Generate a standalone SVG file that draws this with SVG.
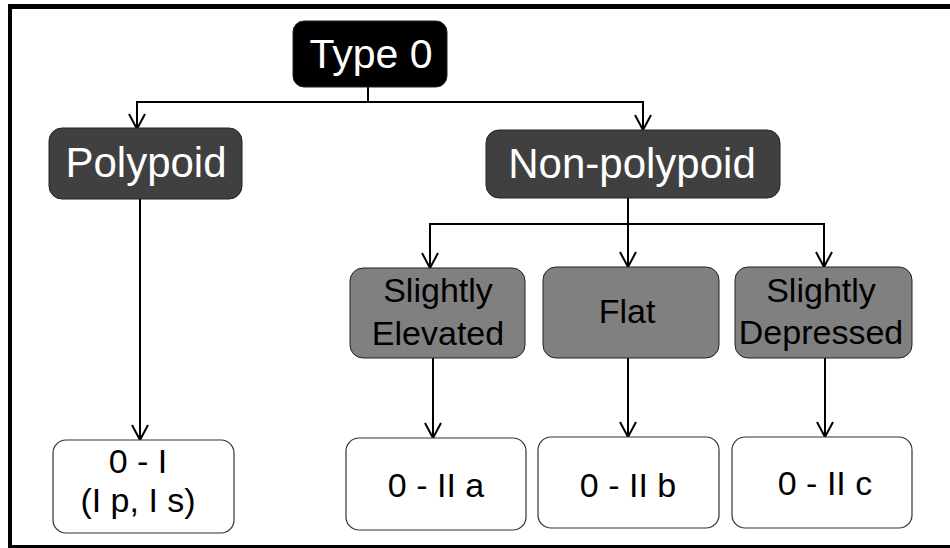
<svg xmlns="http://www.w3.org/2000/svg" width="950" height="548" viewBox="0 0 950 548">
<style>
.t{font-family:"Liberation Sans",Arial,sans-serif;text-anchor:middle}
.top{fill:#000;stroke:#222;stroke-width:1}
.mid{fill:#404040;stroke:#222;stroke-width:1}
.sub{fill:#808080;stroke:#222;stroke-width:1}
.leaf{fill:#fff;stroke:#333;stroke-width:1.2}
.w{fill:#fff}
.k{fill:#000}
.c path{fill:none;stroke:#000;stroke-width:2}
</style>
<defs>
<marker id="ah" viewBox="0 0 18 18" refX="16" refY="9" markerWidth="18" markerHeight="18" markerUnits="userSpaceOnUse" orient="auto">
<path d="M1,1 L16,9 L1,17" fill="none" stroke="#000" stroke-width="2"/>
</marker>
</defs>
<rect width="950" height="548" fill="#fff"/>
<g id="frame" fill="#000">
<rect x="8" y="4" width="942" height="5"/>
<rect x="8" y="4" width="4" height="544"/>
<rect x="8" y="545" width="942" height="3"/>
</g>
<g class="c" id="connectors">
<path d="M368,87 V102 H137 V129" marker-end="url(#ah)"/>
<path d="M368,102 H643 V130" marker-end="url(#ah)"/>
<path d="M140,199 V440" marker-end="url(#ah)"/>
<path d="M628,198 V224 H430 V268" marker-end="url(#ah)"/>
<path d="M628,224 V267" marker-end="url(#ah)"/>
<path d="M628,224 H824 V267" marker-end="url(#ah)"/>
<path d="M433,358 V438" marker-end="url(#ah)"/>
<path d="M628,358 V437" marker-end="url(#ah)"/>
<path d="M825,358 V437" marker-end="url(#ah)"/>
</g>
<g id="type0">
<rect class="top" x="293" y="21" width="154" height="66" rx="11"/>
<text class="t w" x="371" y="68" font-size="41">Type 0</text>
</g>
<g id="polypoid">
<rect class="mid" x="49" y="128" width="193" height="71" rx="13"/>
<text class="t w" x="146" y="177" font-size="42">Polypoid</text>
</g>
<g id="nonpolypoid">
<rect class="mid" x="486" y="130" width="294" height="68" rx="13"/>
<text class="t w" x="632" y="178" font-size="42">Non-polypoid</text>
</g>
<g id="elevated">
<rect class="sub" x="350" y="268" width="175" height="90" rx="13"/>
<text class="t k" x="438" y="302" font-size="34">Slightly</text>
<text class="t k" x="438" y="345" font-size="34">Elevated</text>
</g>
<g id="flat">
<rect class="sub" x="543" y="267" width="176" height="91" rx="13"/>
<text class="t k" x="627" y="323" font-size="34">Flat</text>
</g>
<g id="depressed">
<rect class="sub" x="735" y="267" width="177" height="91" rx="13"/>
<text class="t k" x="821" y="302" font-size="34">Slightly</text>
<text class="t k" x="821" y="344" font-size="34">Depressed</text>
</g>
<g id="zero-I">
<rect class="leaf" x="53" y="440" width="181" height="93" rx="13"/>
<text class="t k" x="138" y="473" font-size="34">0 - I</text>
<text class="t k" x="138" y="512" font-size="34">(I p, I s)</text>
</g>
<g id="zero-IIa">
<rect class="leaf" x="346" y="438" width="180" height="92" rx="13"/>
<text class="t k" x="436" y="497" font-size="34">0 - II a</text>
</g>
<g id="zero-IIb">
<rect class="leaf" x="538" y="437" width="181" height="91" rx="13"/>
<text class="t k" x="628" y="497" font-size="34">0 - II b</text>
</g>
<g id="zero-IIc">
<rect class="leaf" x="732" y="437" width="180" height="91" rx="13"/>
<text class="t k" x="825" y="495" font-size="34">0 - II c</text>
</g>
</svg>
